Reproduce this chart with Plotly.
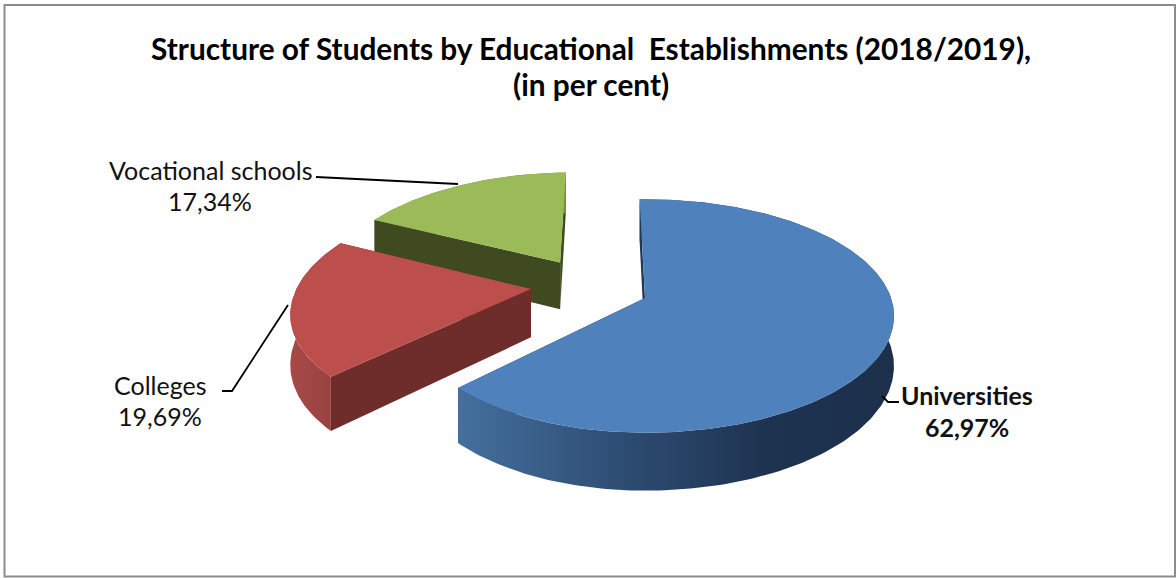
import numpy as np
import plotly.graph_objects as go

categories = ["Universities", "Colleges", "Vocational schools"]
values = [62.97, 19.69, 17.34]
value_labels = ["62,97%", "19,69%", "17,34%"]
top_colors = ["#4f81bd", "#bc4e4b", "#9bbb59"]
wall_colors = ["#1f3655", "#6e2c2b", "#3f4a20"]
title_lines = ["Structure of Students by Educational  Establishments (2018/2019),", "(in per cent)"]

# projection of the tilted pie onto the picture
CX, CY = 645.0, 298.0
A, H, K = 246.0, 114.0, 0.154
DEPTH = 49.0
EXPLODE = 0.24
START = -1.5
NUDGE_U = [0.0, -0.01, -0.01]
NUDGE_V = [0.0, 0.03, 0.035]
LEFT_SCALE = [0.955, 0.965, 0.965]
RIM_STOPS = [
    (455, 890, [(0, "#45709f"), (0.38, "#2e4d73"), (0.72, "#1e3350"), (1, "#1c304c")]),
    (289, 336, [(0, "#a84a47"), (1, "#964240")]),
    (372, 565, [(0, "#7a9446"), (1, "#7a9446")]),
]


def project(u, v, z=0.0):
    w = 1 + K * v
    return CX + A * u / w, CY - H * v / w + DEPTH * z / w


fig = go.Figure()


def poly(xs, ys, color, gradient=None):
    xs, ys = list(xs), list(ys)
    kw = dict(fillcolor=color)
    if gradient is not None:
        g0, g1, scale = gradient
        kw = dict(fillgradient=dict(type="horizontal", start=g0, stop=g1, colorscale=scale))
    fig.add_trace(go.Scatter(
        x=xs + [xs[0]], y=ys + [ys[0]], mode="lines", fill="toself",
        line=dict(color="rgba(0,0,0,0)", width=0), hoverinfo="skip", showlegend=False, **kw))


edges = START + np.concatenate([[0], np.cumsum(values)]) * 3.6
mids = np.radians((edges[:-1] + edges[1:]) / 2)
off_u = EXPLODE * (np.sin(mids) - np.sin(mids[0])) + np.array(NUDGE_U)
off_v = EXPLODE * (np.cos(mids) - np.cos(mids[0])) + np.array(NUDGE_V)


def rim_u(i, t):
    s = np.sin(t)
    return off_u[i] + np.where(s < 0, s * LEFT_SCALE[i], s)


def wall(i, t):
    ou, ov = off_u[i], off_v[i]
    eu, ev = rim_u(i, t), ov + np.cos(t)
    a = project(ou, ov); b = project(eu, ev); c = project(eu, ev, 1); d = project(ou, ov, 1)
    poly([a[0], b[0], c[0], d[0]], [a[1], b[1], c[1], d[1]], wall_colors[i])


for i in [2, 1, 0]:
    t0, t1 = np.radians(edges[i]), np.radians(edges[i + 1])
    n = max(30, int(abs(edges[i + 1] - edges[i])))
    th = np.linspace(t0, t1, n + 1)
    ou, ov = off_u[i], off_v[i]
    pu, pv = rim_u(i, th), ov + np.cos(th)
    wall(i, t1)                                    # far wall
    ax, ay = project(pu, pv)
    bx, by = project(pu, pv, 1)
    poly(np.r_[ax, bx[::-1]], np.r_[ay, by[::-1]], top_colors[i], RIM_STOPS[i])   # rim
    wall(i, t0)                                    # near wall
    tx, ty = project(np.r_[ou, pu], np.r_[ov, pv])
    poly(tx, ty, top_colors[i])                    # top face

leaders = [([882, 888, 899], [396, 402, 402]), ([222, 232, 288], [391, 391, 305]), ([316, 458], [177, 184])]
for lx, ly in leaders:
    fig.add_trace(go.Scatter(x=lx, y=ly, mode="lines", line=dict(color="#000", width=1.8),
                             hoverinfo="skip", showlegend=False))

ann = []
for txt, y in zip(title_lines, [48.5, 84.5]):
    ann.append(dict(x=591, y=y, text="<b>%s</b>" % txt, font=dict(size=29.8, color="#000", family="Lato")))
label_pos = [(967, 395, 427, True), (160, 385, 416, False), (210, 170, 201, False)]
for cat, val, (x, y1, y2, bold) in zip(categories, value_labels, label_pos):
    for txt, y in ((cat, y1), (val, y2)):
        ann.append(dict(x=x, y=y, text="<b>%s</b>" % txt if bold else txt,
                        font=dict(size=25, color="#111", family="Lato")))
for a in ann:
    a.update(xref="x", yref="y", showarrow=False, xanchor="center", yanchor="middle")

fig.update_layout(
    width=1176, height=578, margin=dict(l=0, r=0, t=0, b=0),
    paper_bgcolor="white", plot_bgcolor="white", showlegend=False, annotations=ann,
    xaxis=dict(range=[0, 1176], visible=False, fixedrange=True),
    yaxis=dict(range=[578, 0], visible=False, fixedrange=True),
    shapes=[dict(type="rect", xref="x", yref="y", x0=4.5, y0=5, x1=1175, y1=576.5,
                 line=dict(color="#8c8c8c", width=2), layer="below")],
)
fig.write_html("out.html", config={"displayModeBar": False},
               post_script="document.body.style.margin='0';document.body.style.overflow='hidden';")
